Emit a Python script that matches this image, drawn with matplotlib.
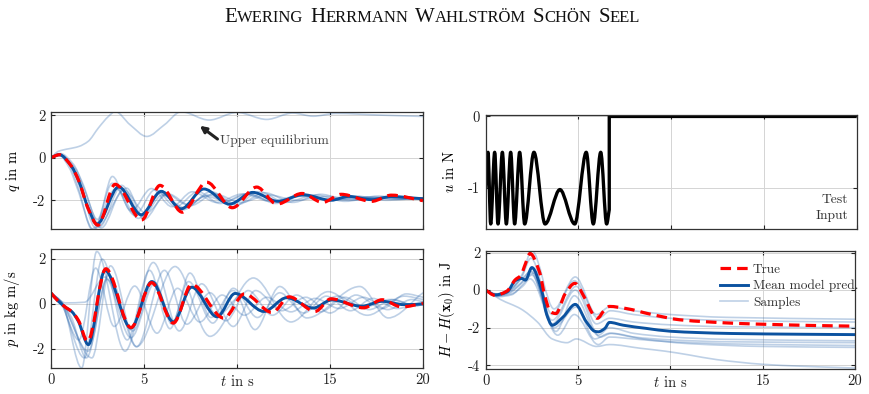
import numpy as np
import matplotlib
matplotlib.use("Agg")
import matplotlib.pyplot as plt
from matplotlib.path import Path
from matplotlib.patches import PathPatch
from matplotlib.lines import Line2D

plt.rcParams["font.family"] = "serif"
plt.rcParams["font.serif"] = ["cmr10"]
plt.rcParams["mathtext.fontset"] = "cm"
plt.rcParams["axes.unicode_minus"] = False
plt.rcParams["font.size"] = 10.5

# ---- position q (extremes and a few shape points) ----
q_true_t = [0, 0.45, 1.1, 1.5, 2.0, 2.52, 3.45, 4.88, 5.86, 7.06, 8.37, 9.75, 11.06, 12.15, 13.5, 14.6, 15.6, 17.24, 18.3, 20]
q_true_v = [0, 0.14, -0.4, -1.1, -2.4, -3.17, -1.25, -2.92, -1.3, -2.56, -1.15, -2.35, -1.38, -2.18, -1.68, -2.1, -1.72, -2.05, -1.76, -2.02]
q_mean_t = [0, 0.45, 1.1, 1.5, 2.0, 2.47, 3.64, 4.85, 5.93, 7.0, 8.22, 9.6, 10.85, 12.2, 13.55, 15.05, 16.0, 17.24, 18.3, 20]
q_mean_v = [0, 0.14, -0.4, -1.1, -2.36, -3.12, -1.37, -2.68, -1.58, -2.4, -1.47, -2.18, -1.63, -2.05, -1.74, -2.0, -1.82, -1.97, -1.83, -1.93]
q_samples = [
    ([0, 0.4, 1.5, 2.0, 2.55, 3.1, 3.45, 4.25, 5.15, 6.1, 7.0, 8.5, 10.0, 11.6, 13.0, 14.1, 15.3, 17.8, 20],
     [0, 0.3, 0.53, 0.77, 1.4, 1.95, 2.17, 1.55, 1.0, 1.55, 2.16, 1.77, 2.13, 1.8, 2.1, 1.95, 2.08, 2.0, 1.94]),
    ([0, 0.4, 1.0, 1.4, 2.3, 3.3, 4.5, 5.6, 6.7, 7.9, 9.1, 10.5, 12.0, 13.6, 15.2, 17.0, 18.6, 20],
     [0, 0.15, -0.5, -1.4, -3.4, -1.2, -2.7, -1.5, -2.3, -1.6, -2.15, -1.7, -2.05, -1.8, -2.0, -1.85, -1.95, -1.9]),
    ([0, 0.5, 1.3, 1.8, 2.7, 3.9, 5.1, 6.3, 7.5, 8.8, 10.2, 11.7, 13.2, 14.8, 16.5, 18.2, 20],
     [0, 0.12, -0.5, -1.5, -3.3, -1.5, -2.6, -1.7, -2.25, -1.7, -2.1, -1.75, -2.0, -1.82, -1.98, -1.85, -1.92]),
    ([0, 0.5, 1.2, 1.7, 2.5, 3.3, 4.3, 5.4, 6.5, 7.6, 8.9, 10.3, 11.8, 13.3, 15.0, 16.8, 18.5, 20],
     [0, 0.2, -0.3, -1.2, -2.9, -0.88, -2.5, -1.45, -2.3, -1.6, -2.1, -1.7, -2.05, -1.8, -1.98, -1.85, -1.95, -1.9]),
    ([0, 0.45, 1.1, 1.6, 2.4, 4.07, 5.0, 6.2, 7.3, 8.5, 9.8, 11.2, 12.6, 14.2, 15.8, 17.5, 20],
     [0, 0.18, -0.45, -1.4, -3.3, -1.43, -2.9, -1.7, -2.2, -1.75, -2.3, -1.6, -2.1, -1.75, -2.05, -1.85, -1.95]),
    ([0, 0.5, 1.2, 1.7, 2.6, 3.8, 4.9, 6.0, 7.1, 8.3, 9.4, 10.6, 12.1, 13.4, 14.9, 16.4, 18.0, 20],
     [0, 0.1, -0.6, -1.7, -3.25, -1.3, -2.75, -1.75, -2.45, -1.8, -2.05, -1.7, -2.15, -1.7, -2.0, -1.8, -2.0, -1.88]),
    ([0, 0.4, 1.0, 1.5, 2.2, 3.5, 4.7, 5.8, 7.2, 8.6, 10.0, 11.5, 13.0, 14.5, 16.0, 17.6, 19.0, 20],
     [0, 0.18, -0.35, -1.5, -3.35, -1.45, -2.85, -1.65, -2.35, -1.6, -2.2, -1.65, -2.1, -1.72, -2.0, -1.8, -1.95, -1.9]),
]

# ---- momentum p ----
p_true_t = [0, 0.4, 0.84, 1.11, 1.47, 1.97, 2.95, 4.3, 5.41, 6.58, 7.56, 9.3, 10.4, 11.9, 12.8, 14.2, 15.05, 16.8, 17.8, 18.85, 20]
p_true_v = [0.49, 0.12, -0.18, -0.33, -0.72, -1.66, 1.57, -1.05, 0.95, -0.85, 0.87, -0.63, 0.45, -0.38, 0.32, -0.33, 0.23, -0.17, 0.19, -0.13, 0.03]
p_mean_t = [0, 0.4, 0.84, 1.11, 1.47, 2.01, 2.9, 4.3, 5.42, 6.58, 7.56, 8.93, 9.9, 11.45, 12.67, 14.1, 15.1, 16.7, 17.8, 19.0, 20]
p_mean_v = [0.49, 0.12, -0.18, -0.33, -0.77, -1.81, 1.5, -1.07, 1.0, -0.8, 0.75, -0.57, 0.47, -0.33, 0.28, -0.18, 0.18, -0.1, 0.12, -0.03, 0.0]
p_samples = [
    ([0, 0.6, 1.65, 2.46, 3.98, 5.5, 6.9, 8.1, 9.4, 10.6, 11.9, 13.2, 14.5, 15.8, 17.1, 18.4, 19.6, 20],
     [0.49, 0.05, -2.85, 2.34, -2.1, 1.85, -1.2, 0.9, -0.75, 0.6, -0.5, 0.4, -0.35, 0.3, -0.25, 0.2, -0.1, 0.0]),
    ([0, 0.5, 1.1, 1.9, 3.1, 4.6, 6.67, 8.55, 10.88, 12.9, 14.9, 17.0, 19.0, 20],
     [0.49, 0.15, -0.6, -2.4, 1.3, -1.9, 1.67, -1.44, 1.16, -0.8, 0.55, -0.5, 0.35, 0.2]),
    ([0, 0.8, 1.8, 2.9, 4.3, 5.6, 6.5, 7.47, 8.6, 9.8, 10.97, 12.3, 13.75, 16.6, 18.13, 20],
     [0.49, 0.05, 0.08, 1.2, -1.5, 0.95, -0.9, 1.38, -0.6, 0.6, -1.14, 0.78, -0.62, 0.78, -0.62, 0.5]),
    ([0, 0.5, 1.8, 2.75, 4.1, 5.3, 6.4, 7.4, 8.7, 9.8, 11.1, 12.3, 13.6, 14.8, 16.1, 17.3, 18.6, 20],
     [0.49, 0.1, -2.4, 2.0, -1.6, 1.5, -1.1, 1.0, -0.85, 0.7, -0.6, 0.5, -0.4, 0.35, -0.3, 0.25, -0.2, 0.1]),
    ([0, 0.6, 2.2, 3.2, 4.6, 6.1, 7.3, 8.55, 9.8, 11.0, 12.4, 13.7, 15.0, 16.4, 17.8, 19.1, 20],
     [0.49, 0.0, -2.4, 1.7, -1.9, 1.5, -0.9, 0.5, -1.0, 0.6, -0.3, 0.3, -0.4, 0.4, -0.2, 0.45, 0.3]),
    ([0, 0.5, 1.5, 2.4, 3.4, 4.5, 5.7, 6.8, 8.0, 9.2, 10.4, 11.6, 12.9, 14.2, 15.5, 16.8, 18.1, 19.4, 20],
     [0.49, 0.1, -1.6, 1.6, -1.0, 0.8, -1.3, 0.7, -0.8, 0.4, -0.5, 0.3, -0.35, 0.25, -0.2, 0.3, -0.25, 0.2, 0.1]),
    ([0, 0.6, 2.0, 3.0, 4.4, 5.5, 6.6, 7.6, 9.0, 10.2, 11.4, 12.7, 14.0, 15.4, 16.8, 18.2, 19.6, 20],
     [0.49, 0.05, -2.1, 1.1, -1.2, 1.0, -0.75, 0.75, -0.5, 0.35, -0.35, 0.3, -0.2, 0.35, -0.15, 0.2, -0.05, 0.0]),
]

# ---- test input u ----
u_t = [0, 0.124, 0.268, 0.483, 0.663, 0.897, 1.112, 1.346, 1.56, 1.83, 2.1, 2.6, 3.2, 4.0, 4.8, 5.42, 5.8, 6.2, 6.52, 6.66]
u_v = [-1.0, -0.5, -1.5, -0.5, -1.5, -0.5, -1.5, -0.5, -1.5, -0.5, -1.5, -0.5, -1.5, -1.02, -1.5, -0.5, -1.5, -0.5, -1.5, -1.3]
u_step_t = [6.66, 20]
u_step_v = [0, 0]

# ---- energy H - H(x0) ----
h_true_t = [0, 0.5, 1.15, 1.6, 1.9, 2.15, 2.4, 2.9, 3.2, 3.5, 3.8, 4.3, 4.83, 5.35, 5.85, 6.05, 6.4, 6.7, 7.6, 9.0, 10.5, 12.0, 13.8, 15.5, 17.5, 20]
h_true_v = [0, -0.28, -0.05, 0.55, 0.78, 1.4, 1.95, 1.0, -0.3, -1.15, -1.25, -0.2, 0.36, -0.4, -1.35, -1.5, -1.1, -0.87, -0.98, -1.3, -1.58, -1.69, -1.78, -1.83, -1.88, -1.92]
h_mean_t = [0, 0.5, 1.15, 1.6, 1.95, 2.15, 2.5, 3.05, 3.3, 3.6, 4.2, 4.85, 5.45, 5.9, 6.1, 6.45, 6.7, 7.45, 8.7, 10.0, 11.5, 13.3, 17.0, 20]
h_mean_v = [0, -0.25, -0.1, 0.5, 0.62, 0.53, 1.2, -0.1, -1.3, -1.87, -1.42, -0.76, -1.69, -2.19, -2.22, -2.04, -1.72, -1.87, -2.04, -2.19, -2.26, -2.31, -2.35, -2.37]
h_samples = [
    ([0, 0.6, 1.3, 1.95, 2.5, 3.7, 4.85, 6.0, 6.7, 8, 10, 13, 20],
     [0, -0.2, 0.05, 0.8, 2.1, -1.0, 0.7, -1.3, -0.9, -1.1, -1.3, -1.45, -1.55]),
    ([0, 0.6, 1.3, 1.95, 2.45, 3.6, 4.8, 6.1, 6.75, 8, 10, 13, 20],
     [0, -0.25, 0.0, 0.7, 1.7, -1.3, 0.5, -1.5, -1.1, -1.3, -1.5, -1.62, -1.7]),
    ([0, 0.6, 1.3, 1.9, 2.4, 3.6, 4.9, 6.0, 6.7, 8, 10, 13, 20],
     [0, -0.3, -0.15, 0.35, 1.0, -1.6, 0.2, -1.8, -1.5, -1.7, -1.85, -1.95, -2.0]),
    ([0, 0.6, 1.3, 1.95, 2.6, 3.8, 4.8, 6.1, 6.7, 8, 10, 13, 20],
     [0, -0.3, -0.1, 0.4, 0.9, -2.2, -0.3, -2.4, -2.0, -2.3, -2.5, -2.62, -2.7]),
    ([0, 0.7, 1.4, 2.0, 2.5, 3.7, 4.9, 5.9, 6.7, 8, 10, 13, 20],
     [0, -0.35, -0.25, 0.3, 0.8, -2.0, -0.9, -2.6, -2.3, -2.5, -2.65, -2.75, -2.8]),
    ([0, 0.7, 1.4, 2.0, 2.4, 3.9, 4.8, 6.1, 6.7, 8, 10, 14, 20],
     [0, -0.3, -0.2, 0.2, 0.6, -2.4, -1.3, -2.9, -2.5, -2.6, -2.75, -2.88, -2.95]),
    ([0, 0.6, 1.3, 1.95, 2.5, 3.6, 4.85, 6.2, 6.8, 8.5, 11, 15, 20],
     [0, -0.25, -0.05, 0.6, 1.0, -1.8, 0.0, -2.5, -2.3, -2.6, -2.85, -3.0, -3.05]),
    ([0, 0.8, 1.9, 2.8, 3.6, 4.4, 4.9, 6.0, 6.7, 8.4, 9.7, 11, 12.5, 15, 17, 20],
     [0, -0.5, -1.0, -1.7, -2.6, -2.8, -2.6, -3.0, -2.9, -3.1, -3.25, -3.45, -3.7, -3.95, -4.05, -4.15]),
]

c_true = "#ff0000"
c_mean = "#0b52a0"
c_samp = "#2a66ad"
dash = (0, (3.3, 1.9))


def smooth_line(ax, t, v, tail_t=(), tail_v=(), **kw):
    # smooth cubic curve through the read-off points (monotone tangents, flat at extremes),
    # optionally continued by straight segments
    t = np.asarray(t, float)
    v = np.asarray(v, float)
    d = np.diff(v) / np.diff(t)
    m = np.zeros_like(v)
    m[0], m[-1] = d[0], d[-1]
    for i in range(1, len(v) - 1):
        if d[i - 1] * d[i] > 0:
            m[i] = 2 / (1 / d[i - 1] + 1 / d[i])
    verts = [(t[0], v[0])]
    codes = [Path.MOVETO]
    for i in range(len(t) - 1):
        h = (t[i + 1] - t[i]) / 3
        verts += [(t[i] + h, v[i] + m[i] * h), (t[i + 1] - h, v[i + 1] - m[i + 1] * h), (t[i + 1], v[i + 1])]
        codes += [Path.CURVE4] * 3
    for tt, vv in zip(tail_t, tail_v):
        verts.append((tt, vv))
        codes.append(Path.LINETO)
    ax.add_patch(PathPatch(Path(verts, codes), fill=False, capstyle="butt", joinstyle="round", **kw))


def style_axes(ax, ylim, yticks, xlabels):
    ax.set_xlim(0, 20)
    ax.set_ylim(*ylim)
    ax.set_xticks([0, 5, 10, 15, 20])
    ax.set_yticks(yticks)
    if xlabels:
        ax.set_xticklabels(["0", "5", "$t$ in s", "15", "20"])
    else:
        ax.set_xticklabels([])
    ax.grid(True, color="#d4d4d4", lw=0.7)
    ax.set_axisbelow(True)
    ax.tick_params(direction="in", length=3, width=0.8, top=True, right=True,
                   labelsize=10.5, colors="#222222", pad=4)
    for s in ax.spines.values():
        s.set_color("#333333")
        s.set_linewidth(0.9)
    ax.yaxis.set_label_coords(-0.078, 0.5)


fig = plt.figure(figsize=(8.7, 3.94), dpi=100)
ax_q = fig.add_axes([0.0586, 0.4188, 0.4276, 0.297])
ax_p = fig.add_axes([0.0586, 0.066, 0.4276, 0.302])
ax_u = fig.add_axes([0.5583, 0.4188, 0.4264, 0.2893])
ax_h = fig.add_axes([0.5583, 0.0635, 0.4245, 0.3003])

sample_kw = dict(edgecolor=c_samp, alpha=0.3, lw=1.2)
mean_kw = dict(edgecolor=c_mean, lw=2.1)
true_kw = dict(edgecolor=c_true, lw=2.3, linestyle=dash)

for ax, samples, mt, mv, tt, tv in [
    (ax_q, q_samples, q_mean_t, q_mean_v, q_true_t, q_true_v),
    (ax_p, p_samples, p_mean_t, p_mean_v, p_true_t, p_true_v),
    (ax_h, h_samples, h_mean_t, h_mean_v, h_true_t, h_true_v),
]:
    for st, sv in samples:
        smooth_line(ax, st, sv, **sample_kw)
    smooth_line(ax, mt, mv, **mean_kw)
    smooth_line(ax, tt, tv, **true_kw)

smooth_line(ax_u, u_t, u_v, tail_t=u_step_t, tail_v=u_step_v, edgecolor="black", lw=2.4)

style_axes(ax_q, (-3.35, 2.15), [-2, 0, 2], False)
style_axes(ax_p, (-2.85, 2.45), [-2, 0, 2], True)
style_axes(ax_u, (-1.57, 0.02), [-1, 0], False)
style_axes(ax_h, (-4.2, 2.1), [-4, -2, 0, 2], True)

ax_q.set_ylabel("$q$ in m")
ax_p.set_ylabel("$p$ in kg m/s")
ax_u.set_ylabel("$u$ in N")
ax_h.set_ylabel(r"$H - H(\mathbf{x}_0)$ in J")

ax_q.annotate("Upper equilibrium", xy=(8.0, 1.5), xytext=(9.1, 0.78),
              ha="left", va="center", color="#444444", fontsize=9.8,
              arrowprops=dict(arrowstyle="-|>", color="#222222", lw=2.2,
                              mutation_scale=9, shrinkA=0, shrinkB=0, relpos=(0, 0.5)))

ax_u.text(0.978, 0.06, "Test\nInput", transform=ax_u.transAxes, ha="right", va="bottom",
          multialignment="right", color="#333333", fontsize=9.8, linespacing=1.4)

handles = [Line2D([], [], color=c_true, lw=2.3, linestyle=dash),
           Line2D([], [], color=c_mean, lw=2.1),
           Line2D([], [], color=c_samp, lw=1.2, alpha=0.3)]
ax_h.legend(handles, ["True", "Mean model pred.", "Samples"], loc="upper left",
            bbox_to_anchor=(0.615, 0.95), frameon=False, fontsize=9.6, handlelength=2.1,
            handletextpad=0.4, labelspacing=0.3, borderpad=0, labelcolor="#333333")

# running head in small capitals
words = ["Ewering", "Herrmann", "Wahlström", "Schön", "Seel"]
renderer = fig.canvas.get_renderer()
pieces = []
x = 0.0
for word in words:
    for s, size in [(word[0], 15.0), (word[1:].upper(), 12.0)]:
        txt = fig.text(x, 0.944, s, fontsize=size, family="Liberation Serif",
                       ha="left", va="baseline", color="#111111")
        x += txt.get_window_extent(renderer).width / fig.bbox.width
        pieces.append(txt)
    x += 0.0078
x -= 0.0078
shift = 0.497 - x / 2
for txt in pieces:
    px, py = txt.get_position()
    txt.set_position((px + shift, py))

fig.savefig("out.png", dpi=100)
